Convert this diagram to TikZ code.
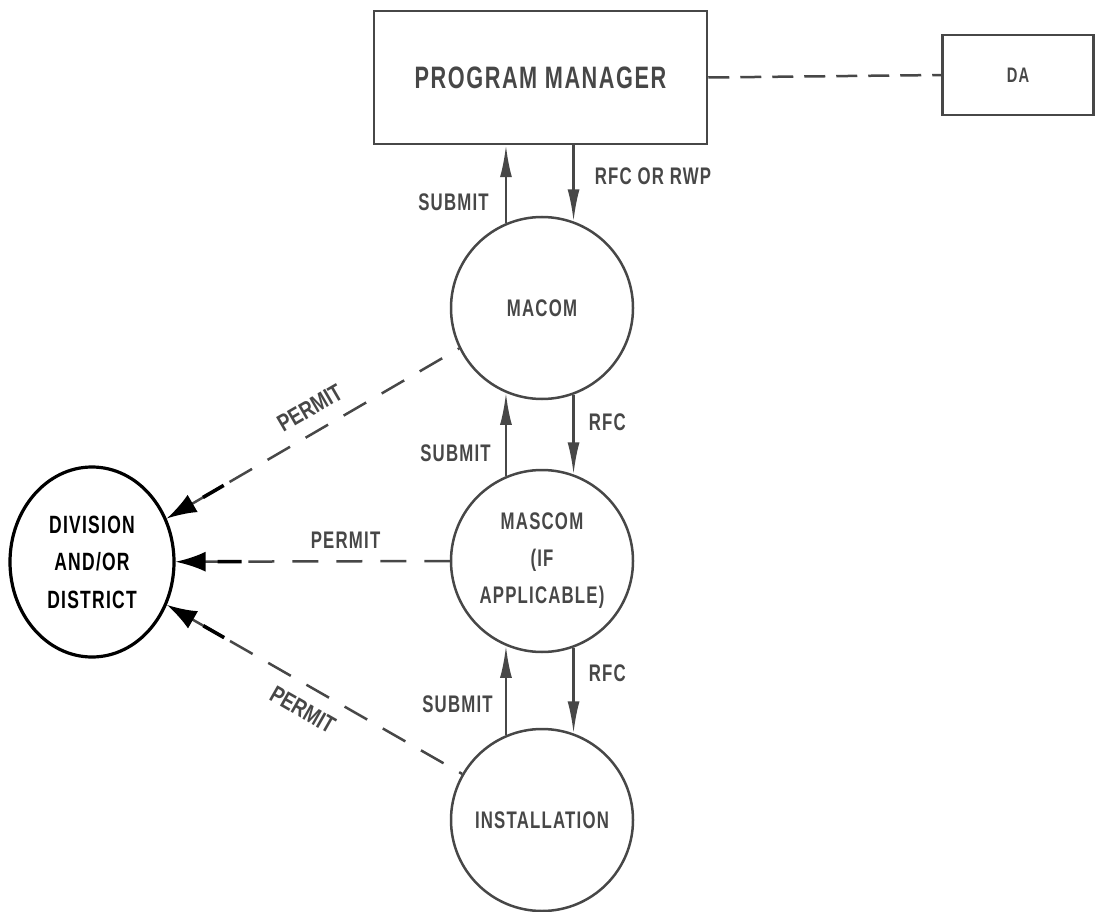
\documentclass[tikz,border=0pt]{standalone}
\usepackage{fontspec}
\newfontfamily\labelfont[FakeStretch=0.7,LetterSpace=5]{Liberation Sans}
\newfontfamily\slopefont[FakeStretch=0.78]{Liberation Sans}
\usetikzlibrary{arrows.meta,shapes.geometric}
\definecolor{ink}{HTML}{474747}

\begin{document}
\begin{tikzpicture}[
    x=1pt, y=-1pt,
    line width=2.5pt,
    every node/.style={font=\labelfont\bfseries\fontsize{24}{37}\selectfont, text=ink},
    office/.style={draw=ink, circle, minimum size=182pt, inner sep=0pt, align=center},
    unit/.style={draw=ink, rectangle, inner sep=0pt},
    flow/.style={draw=ink, -{Latex[length=32pt,width=12pt]}},
    permit/.style={draw=ink, dash pattern=on 26pt off 18pt,
        {Latex[length=30pt,width=20pt,color=black,fill=black]}-},
    permitend/.style={draw=black, line width=3.6pt, dash pattern=on 0pt off 42pt on 24pt off 2000pt},
    lbl/.style={inner sep=0pt},
    slbl/.style={inner sep=0pt, font=\slopefont\bfseries\fontsize{24}{28}\selectfont}
]
\useasboundingbox (0,0) rectangle (1095,912);

% boxes
\node[unit, minimum width=333pt, minimum height=133pt,
    font=\labelfont\bfseries\fontsize{31}{36}\selectfont] (pm) at (540.5,77.5) {PROGRAM MANAGER};
\node[unit, minimum width=151pt, minimum height=80pt,
    font=\labelfont\bfseries\fontsize{21}{26}\selectfont] (da) at (1018,75) {DA};

% commands
\node[office] (macom) at (542,308) {MACOM};
\node[office] (mascom) at (542,561) {MASCOM\\(IF\\APPLICABLE)};
\node[office] (inst) at (542,820) {INSTALLATION};
\node[draw=black, line width=3.2pt, ellipse, minimum width=164pt, minimum height=190pt,
    inner sep=0pt, align=center, text=black,
    font=\labelfont\bfseries\fontsize{25}{37.5}\selectfont] (div) at (92,562) {DIVISION\\AND/OR\\DISTRICT};

\draw[draw=ink, dash pattern=on 21pt off 11pt] (pm.east) -- (da.west);

% submit / request
\draw[flow] (macom.113) -- (macom.113 |- pm.south) node[lbl, left=16pt, pos=0.27] {SUBMIT};
\draw[flow] (macom.70 |- pm.south) -- (macom.70) node[lbl, right=20pt, pos=0.41] {RFC OR RWP};
\draw[flow] (mascom.113) -- (macom.247) node[lbl, left=14pt, pos=0.28] {SUBMIT};
\draw[flow] (macom.290) -- (mascom.70) node[lbl, right=14pt, pos=0.35] {RFC};
\draw[flow] (inst.113) -- (mascom.247) node[lbl, left=12pt, pos=0.35] {SUBMIT};
\draw[flow] (mascom.290) -- (inst.70) node[lbl, right=14pt, pos=0.3] {RFC};

% permits
\draw[permit] (div) -- (macom.206) node[slbl, sloped, above=14pt, pos=0.53] {PERMIT};
\draw[permit] (div) -- (mascom.west) node[lbl, above=12pt, pos=0.62] {PERMIT};
\draw[permit] (div) -- (inst.150) node[slbl, sloped, below=14pt, pos=0.5] {PERMIT};
\draw[permitend] (div) -- (macom.206);
\draw[permitend] (div) -- (mascom.west);
\draw[permitend] (div) -- (inst.150);
\end{tikzpicture}
\end{document}
